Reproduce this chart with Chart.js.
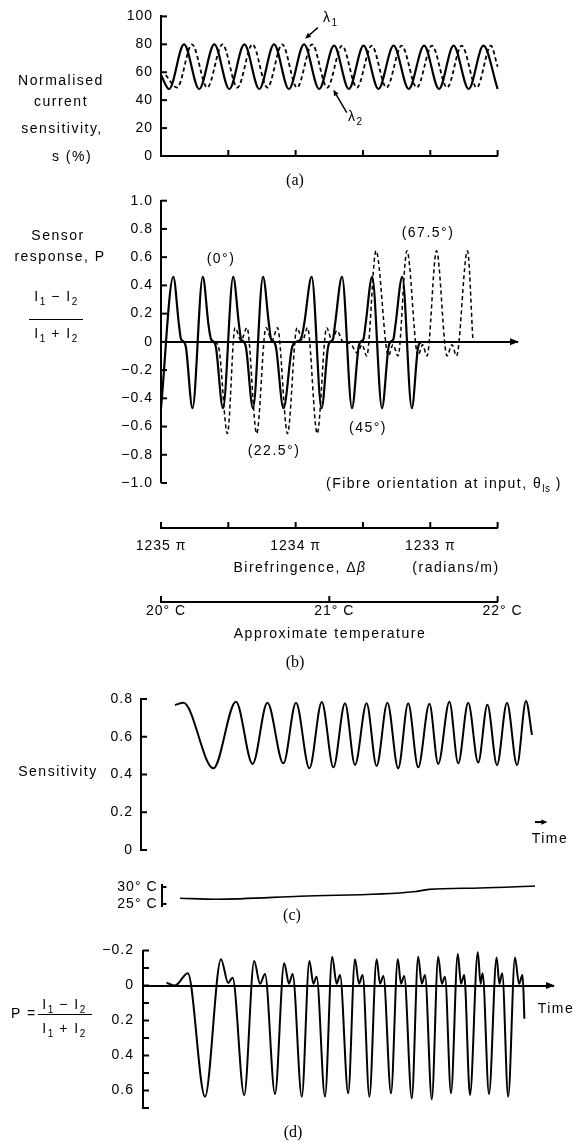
<!DOCTYPE html>
<html><head><meta charset="utf-8">
<script src="https://cdn.jsdelivr.net/npm/chart.js@4.4.1/dist/chart.umd.min.js"></script>
<style>
html,body{margin:0;padding:0;background:#fff;}
#page{position:relative;width:575px;height:1142px;overflow:hidden;background:#fff;}
canvas{position:absolute;left:0;top:0;}
.t{position:absolute;white-space:nowrap;line-height:1;font-family:"Liberation Sans",Arial,sans-serif;font-size:14px;letter-spacing:1.5px;color:#000;transform:translate(-50%,-50%);}
.l{transform:translate(0,-50%);}
.cap{font-family:"Liberation Serif","Times New Roman",serif;font-size:16px;letter-spacing:0;}
.sub{font-size:10px;position:relative;top:4px;letter-spacing:0.5px;}
.bar{position:absolute;height:0;border-top:1.5px solid #000;}
</style></head>
<body><div id="page">
<canvas id="ca" width="575" height="1142"></canvas>
<canvas id="cb" width="575" height="1142"></canvas>
<canvas id="cbr" width="575" height="1142"></canvas>
<canvas id="ctb" width="575" height="1142"></canvas>
<canvas id="cc" width="575" height="1142"></canvas>
<canvas id="ctc" width="575" height="1142"></canvas>
<canvas id="cd" width="575" height="1142"></canvas>

<div class="t" style="left:61px;top:80px">Normalised</div>
<div class="t" style="left:61px;top:101px">current</div>
<div class="t" style="left:62px;top:128px">sensitivity,</div>
<div class="t" style="left:72px;top:156px">s (%)</div>
<div class="t l" style="left:323px;top:17px">λ<span class="sub">1</span></div>
<div class="t l" style="left:348px;top:116px">λ<span class="sub">2</span></div>
<div class="t cap" style="left:295px;top:180px">(a)</div>

<div class="t" style="left:58px;top:235px">Sensor</div>
<div class="t" style="left:60px;top:256px">response, P</div>
<div class="t" style="left:56px;top:296px">I<span class="sub">1</span> − I<span class="sub">2</span></div>
<div class="bar" style="left:29px;top:319px;width:54px"></div>
<div class="t" style="left:56px;top:333px">I<span class="sub">1</span> + I<span class="sub">2</span></div>
<div class="t" style="left:221px;top:258px">(0°)</div>
<div class="t" style="left:428px;top:232px">(67.5°)</div>
<div class="t" style="left:368px;top:427px">(45°)</div>
<div class="t" style="left:274px;top:450px">(22.5°)</div>
<div class="t l" style="left:326px;top:483px">(Fibre orientation at input, θ<span class="sub">ls</span> )</div>
<div class="t" style="left:300px;top:567px">Birefringence, Δ<i>β</i></div>
<div class="t" style="left:456px;top:567px">(radians/m)</div>
<div class="t" style="left:330px;top:633px">Approximate temperature</div>
<div class="t cap" style="left:295px;top:662px">(b)</div>

<div class="t" style="left:58px;top:771px">Sensitivity</div>
<div class="t" style="left:550px;top:838px">Time</div>
<div class="t cap" style="left:292px;top:915px">(c)</div>

<div class="t l" style="left:11px;top:1013px">P =</div>
<div class="t" style="left:64px;top:1004px">I<span class="sub">1</span> − I<span class="sub">2</span></div>
<div class="bar" style="left:38px;top:1014px;width:54px"></div>
<div class="t" style="left:64px;top:1028px">I<span class="sub">1</span> + I<span class="sub">2</span></div>
<div class="t" style="left:556px;top:1008px">Time</div>
<div class="t cap" style="left:293px;top:1132px">(d)</div>
</div>
<script>
// ---------- DATA ----------
// (a) normalised current sensitivity (%), x in axis divisions (0..5)
const aSolidX = [0, 0.12, 0.342, 0.567, 0.792, 1.015, 1.238, 1.46, 1.679, 1.90, 2.125, 2.35, 2.571, 2.79, 3.009, 3.23, 3.455, 3.68, 3.908, 4.13, 4.346, 4.57, 4.789, 5.0];
const aSolidY = [58, 48, 80, 48, 80, 48, 80, 48, 80, 48, 80, 48, 79, 48, 79, 48, 79, 48, 79, 48, 79, 48, 79, 48];
const aDashX = [0.07, 0.24, 0.46, 0.687, 0.912, 1.135, 1.358, 1.58, 1.80, 2.02, 2.245, 2.47, 2.69, 2.91, 3.13, 3.35, 3.575, 3.80, 4.025, 4.25, 4.466, 4.69, 4.9, 5.0];
const aDashY = [58, 49, 80, 49, 80, 49, 80, 49, 80, 49, 80, 49, 79, 49, 79, 49, 79, 49, 79, 49, 79, 49, 79, 64];

// (b) sensor response P, x in axis divisions (0.5 pi rad/m each)
const bSolidX = [0, 0.183, 0.267, 0.297, 0.342, 0.371, 0.468, 0.621, 0.706, 0.743, 0.788, 0.817, 0.921, 1.073, 1.159, 1.189, 1.233, 1.263, 1.367, 1.516, 1.605, 1.635, 1.679, 1.709, 1.820, 1.947, 2.006, 2.080, 2.125, 2.239, 2.386, 2.481, 2.511, 2.556, 2.585, 2.690, 2.838, 2.935, 2.964, 3.009, 3.039, 3.138, 3.284, 3.380, 3.410, 3.454, 3.484, 3.585, 3.727, 3.819, 3.863];
const bSolidY = [-0.47, 0.46, 0.12, 0.02, 0, -0.04, -0.47, 0.46, 0.12, 0.02, 0, -0.04, -0.47, 0.46, 0.12, 0.02, 0, -0.04, -0.47, 0.46, 0.12, 0.02, 0, -0.04, -0.47, -0.04, 0, 0.02, 0.12, 0.46, -0.47, -0.04, 0, 0.02, 0.12, 0.46, -0.47, -0.04, 0, 0.02, 0.12, 0.46, -0.47, -0.04, 0, 0.02, 0.12, 0.46, -0.47, -0.04, 0];
const bDashX = [0.802, 0.862, 0.987, 1.100, 1.189, 1.278, 1.422, 1.560, 1.649, 1.731, 1.880, 2.021, 2.103, 2.177, 2.321, 2.462, 2.541, 2.615, 2.704, 2.808, 2.920, 2.987, 3.057, 3.195, 3.380, 3.447, 3.522, 3.655, 3.819, 3.886, 3.953, 4.094, 4.250, 4.324, 4.391, 4.554, 4.636];
const bDashY = [0, -0.05, -0.65, 0.1, 0.01, 0.1, -0.65, 0.1, 0.01, 0.1, -0.65, 0.1, 0.01, 0.1, -0.65, 0.1, 0.01, 0.08, 0, -0.01, -0.08, -0.02, -0.1, 0.645, -0.1, -0.02, -0.1, 0.645, -0.1, -0.02, -0.1, 0.645, -0.1, -0.02, -0.1, 0.645, 0];
const birefTicks = [1235, 1234, 1233];     // x pi rad/m
const tempTicksB = [20, 21, 22];           // deg C

// (c) sensitivity vs time (arbitrary time units)
const cTime = [8.5, 10.6, 18.1, 23.75, 27.9, 31.6, 35.6, 38.75, 42.1, 45.2, 48.1, 51, 53.5, 56.4, 58.9, 61.6, 64.3, 66.8, 69.3, 72.1, 74.3, 77.1, 79.3, 81.8, 84.3, 86.6, 89, 91.5, 94, 96.25, 97.75];
const cSens = [0.768, 0.78, 0.433, 0.786, 0.456, 0.78, 0.459, 0.78, 0.433, 0.784, 0.438, 0.777, 0.45, 0.777, 0.445, 0.78, 0.433, 0.777, 0.438, 0.775, 0.456, 0.786, 0.459, 0.78, 0.463, 0.77, 0.45, 0.78, 0.45, 0.79, 0.61];
const tempTime = [9.75, 18.75, 39.75, 68.25, 72, 84.75, 98.5];
const tempC = [26.7, 26.4, 27.3, 28.6, 29.3, 29.7, 30.3];
const tempTicksC = [25, 30];

// (d) P vs time
const dTime = [5.9, 8, 11.2, 15.5, 19.5, 21.3, 22.4, 25.3, 27.8, 29.25, 30.5, 33, 35.3, 36.5, 37.4, 39.7, 41.6, 42.6, 43.4, 45.5, 47.3, 48.4, 49.25, 51.3, 53, 54, 54.9, 56.6, 58.4, 59.25, 60.1, 62, 63.7, 64.5, 65.3, 67.2, 68.8, 69.7, 70.5, 72.2, 73.8, 74.7, 75.5, 77, 78.7, 79.5, 80.3, 81.75, 83.7, 84.4, 84.9, 86.5, 88.4, 89.1, 89.8, 91.3, 93, 94, 94.9, 95.35];
const dP = [-0.016, 0, -0.07, 0.635, -0.15, -0.015, -0.045, 0.626, -0.14, -0.01, -0.066, 0.62, -0.127, -0.01, -0.066, 0.635, -0.14, -0.01, -0.05, 0.635, -0.165, -0.01, -0.06, 0.616, -0.15, -0.01, -0.06, 0.635, -0.15, -0.01, -0.055, 0.616, -0.15, -0.01, -0.055, 0.645, -0.165, -0.01, -0.06, 0.65, -0.165, -0.01, -0.05, 0.616, -0.18, -0.01, -0.06, 0.626, -0.19, -0.01, -0.07, 0.62, -0.16, -0.01, -0.07, 0.635, -0.16, -0.01, -0.06, 0.19];

// ---------- HELPERS ----------
const FONT = '"Liberation Sans", Arial, sans-serif';
const PW = 575, PH = 1142;
function pts(xs, ys){ return xs.map((x,i)=>({x:x, y:ys[i]})); }
function fmt(v){ const n = Math.round(v*10); if (n===0) return '0'; return (n<0?'\u2212':'') + (Math.abs(n)/10).toFixed(1); }
function pad(a, yW, xH){ return {left:a.l - yW, top:a.t, right:PW - a.r, bottom:PH - a.b - xH}; }
const gridOff = {display:true, drawOnChartArea:false, drawTicks:false};
const bord = {display:true, color:'#000', width:2};
const tickFont = {family:FONT, size:14};
function lineDS(data, extra){ return Object.assign({data:data, borderColor:'#000', borderWidth:2, pointRadius:0, fill:false, cubicInterpolationMode:'monotone', clip:false}, extra||{}); }
function yScale(w, extra, tickExtra){
  return Object.assign({type:'linear', position:'left', afterFit:function(s){ s.width = w; }, grid:gridOff, border:bord,
    ticks:Object.assign({color:'#000', font:tickFont, padding:8, autoSkip:false, callback:fmt}, tickExtra||{})}, extra);
}

const decor = {
  id:'decor',
  beforeUpdate(c){ try{ c.ctx.letterSpacing = '1px'; }catch(e){} },
  beforeDraw(c){ try{ c.ctx.letterSpacing = '1px'; }catch(e){} },
  afterDraw(c, args, o){
    if(!o) return;
    const ctx = c.ctx, ca = c.chartArea;
    ctx.save();
    ctx.strokeStyle = '#000'; ctx.fillStyle = '#000'; ctx.lineWidth = 2;
    (o.ticks||[]).forEach(function(t){
      const s = c.scales[t.id];
      s.ticks.forEach(function(k){
        const p = s.getPixelForValue(k.value);
        ctx.beginPath();
        if (s.isHorizontal()) { ctx.moveTo(p, ca.bottom); ctx.lineTo(p, ca.bottom - t.len); }
        else { ctx.moveTo(ca.left, p); ctx.lineTo(ca.left + t.len, p); }
        ctx.stroke();
      });
    });
    if (o.axisArrow) {
      const px = c.scales.x.right, py = c.scales.y.getPixelForValue(0);
      ctx.beginPath(); ctx.moveTo(px + 2, py); ctx.lineTo(px - 7, py - 3.5); ctx.lineTo(px - 7, py + 3.5); ctx.closePath(); ctx.fill();
    }
    (o.arrows||[]).forEach(function(a){
      const xs = c.scales.x, ys = c.scales.y;
      const x1 = xs.getPixelForValue(a.from[0]), y1 = ys.getPixelForValue(a.from[1]);
      const x2 = xs.getPixelForValue(a.to[0]), y2 = ys.getPixelForValue(a.to[1]);
      ctx.lineWidth = a.w || 1.5;
      const ang = Math.atan2(y2 - y1, x2 - x1), L = a.head || 6, Wd = 2.6;
      ctx.beginPath(); ctx.moveTo(x1, y1); ctx.lineTo(x2 - L*0.5*Math.cos(ang), y2 - L*0.5*Math.sin(ang)); ctx.stroke();
      ctx.beginPath(); ctx.moveTo(x2, y2);
      ctx.lineTo(x2 - L*Math.cos(ang) + Wd*Math.sin(ang), y2 - L*Math.sin(ang) - Wd*Math.cos(ang));
      ctx.lineTo(x2 - L*Math.cos(ang) - Wd*Math.sin(ang), y2 - L*Math.sin(ang) + Wd*Math.cos(ang));
      ctx.closePath(); ctx.fill();
    });
    ctx.restore();
  }
};

function make(id, area, yW, xH, scales, datasets, decorOpts){
  return new Chart(document.getElementById(id), {
    type:'line',
    data:{datasets:datasets},
    options:{
      responsive:false, animation:false, events:[],
      layout:{padding:pad(area, yW, xH)},
      plugins:{legend:{display:false}, tooltip:{enabled:false}, decor:decorOpts},
      scales:scales
    },
    plugins:[decor]
  });
}

// ---------- (a) ----------
make('ca', {l:161, t:15, r:497.6, b:156}, 60, 0, {
  x:{type:'linear', min:0, max:5, position:'bottom', afterFit:function(s){ s.height = 0; }, grid:gridOff, border:bord, ticks:{display:false, stepSize:1, autoSkip:false}},
  y:yScale(60, {min:0, max:100}, {stepSize:20, callback:function(v){ return String(v); }})
}, [
  lineDS(pts(aSolidX, aSolidY), {borderWidth:2.2}),
  lineDS(pts(aDashX, aDashY), {borderWidth:1.8, borderDash:[4,3]})
], {
  ticks:[{id:'x', len:6}, {id:'y', len:6}],
  arrows:[{from:[2.33, 92], to:[2.14, 84]}, {from:[2.76, 31], to:[2.56, 47.5]}]
});

// ---------- (b) ----------
make('cb', {l:161, t:200.7, r:517, b:483}, 60, 0, {
  x:{type:'linear', min:0, max:5.29, position:{y:0}, grid:gridOff, border:bord, ticks:{display:false}},
  y:yScale(60, {min:-1, max:1}, {stepSize:0.2})
}, [
  lineDS(pts(bSolidX, bSolidY), {borderWidth:2.2}),
  lineDS(pts(bDashX, bDashY), {borderWidth:1.5, borderDash:[4,3]})
], {ticks:[{id:'y', len:6}], axisArrow:true});

// birefringence axis
make('cbr', {l:161, t:518, r:497.6, b:528}, 0, 40, {
  x:{type:'linear', min:1232.5, max:1235, reverse:true, position:'bottom', afterFit:function(s){ s.height = 40; }, grid:gridOff, border:bord,
     ticks:{stepSize:0.5, autoSkip:false, maxRotation:0, color:'#000', font:tickFont, padding:10,
            callback:function(v){ return birefTicks.indexOf(v) >= 0 ? v + ' \u03c0' : ''; }}},
  y:{type:'linear', display:false}
}, [], {ticks:[{id:'x', len:6}]});

// temperature axis (b)
make('ctb', {l:161, t:592, r:497.6, b:602}, 0, 30, {
  x:{type:'linear', min:20, max:22, position:'bottom', afterFit:function(s){ s.height = 30; }, grid:gridOff, border:bord,
     ticks:{stepSize:1, autoSkip:false, maxRotation:0, color:'#000', font:tickFont, padding:1, labelOffset:5,
            callback:function(v){ return tempTicksB.indexOf(v) >= 0 ? v + '\u00b0 C' : ''; }}},
  y:{type:'linear', display:false}
}, [], {ticks:[{id:'x', len:6}]});

// ---------- (c) ----------
make('cc', {l:141, t:699, r:541, b:850}, 60, 0, {
  x:{type:'linear', min:0, max:100, display:false},
  y:yScale(60, {min:0, max:0.8}, {stepSize:0.2})
}, [
  lineDS(pts(cTime, cSens), {borderWidth:2})
], {ticks:[{id:'y', len:6}], arrows:[{from:[98.5, 0.148], to:[101.6, 0.148], head:6, w:2}]});

make('ctc', {l:161.5, t:885, r:541, b:906}, 70, 0, {
  x:{type:'linear', min:5.125, max:100, display:false},
  y:yScale(70, {min:24.4, max:30.6, afterBuildTicks:function(s){ s.ticks = tempTicksC.map(function(v){ return {value:v}; }); }},
     {padding:4, callback:function(v){ return v + '\u00b0 C'; }})
}, [
  lineDS(pts(tempTime, tempC), {borderWidth:1.6})
], {ticks:[{id:'y', len:5}]});

// ---------- (d) ----------
make('cd', {l:143, t:950.5, r:553, b:1108}, 60, 0, {
  x:{type:'linear', min:0, max:102.5, position:{y:0}, grid:gridOff, border:bord, ticks:{display:false}},
  y:yScale(60, {min:-0.2, max:0.7, reverse:true}, {padding:9, stepSize:0.1,
     callback:function(v){ const n = Math.round(v*10); return (Math.abs(n) % 2 === 0) ? fmt(v) : ''; }})
}, [
  lineDS(pts(dTime, dP), {borderWidth:2})
], {ticks:[{id:'y', len:6}], axisArrow:true});
</script>
</body></html>
